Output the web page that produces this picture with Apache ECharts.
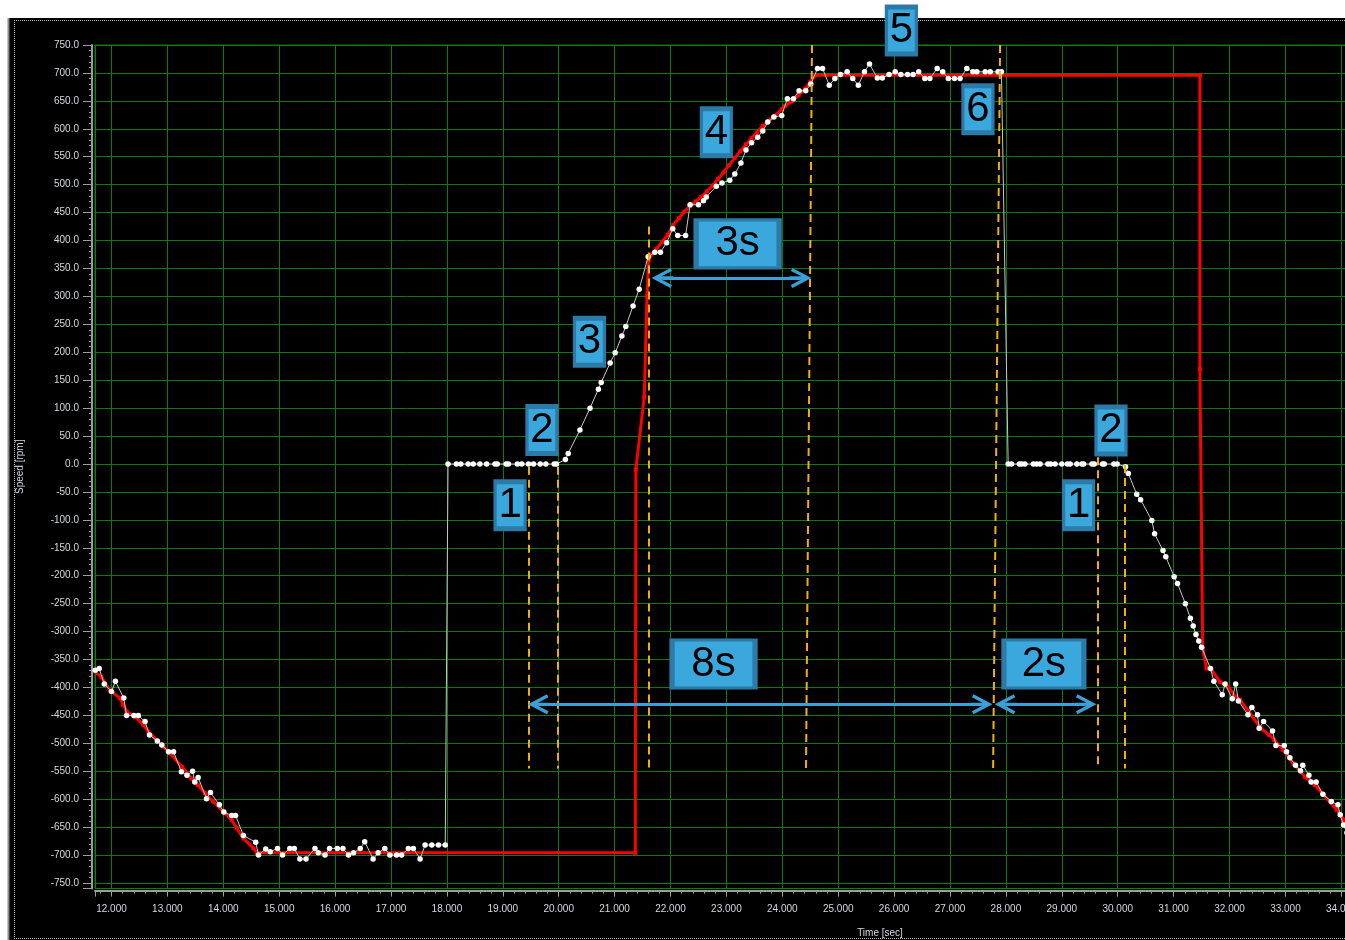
<!DOCTYPE html>
<html>
<head>
<meta charset="utf-8">
<title>Speed profile</title>
<script src="https://cdn.jsdelivr.net/npm/echarts@6/dist/echarts.min.js"></script>
<style>
  html, body { margin: 0; padding: 0; background: #fff; overflow: hidden; }
  #chart { width: 1345px; height: 940px; }
</style>
</head>
<body>
<div id="chart"></div>
<script>
// Measured motor speed (white trace)
const measuredTime = [
  11.71, 11.78, 11.87, 12.00, 12.07, 12.22, 12.27, 12.40, 12.48, 12.60,
  12.68, 12.82, 12.90, 13.02, 13.11, 13.25, 13.35, 13.45, 13.49, 13.55,
  13.70, 13.77, 13.93, 14.01, 14.15, 14.22, 14.36, 14.58, 14.63, 14.76,
  14.84, 14.97, 15.06, 15.19, 15.27, 15.37, 15.48, 15.64, 15.70, 15.82,
  15.90, 16.04, 16.14, 16.24, 16.33, 16.45, 16.53, 16.68, 16.77, 16.89,
  16.98, 17.10, 17.19, 17.31, 17.40, 17.52, 17.61, 17.73, 17.85, 17.97,
  18.02, 18.17, 18.25, 18.38, 18.47, 18.59, 18.71, 18.86, 18.90, 19.06,
  19.10, 19.26, 19.34, 19.46, 19.55, 19.67, 19.77, 19.92, 19.96,
  20.12, 20.17, 20.38, 20.56, 20.71, 20.76, 20.92, 21.01, 21.13, 21.20,
  21.33, 21.44, 21.60, 21.72, 21.82, 21.93, 22.04, 22.13, 22.27, 22.35,
  22.50, 22.59, 22.64, 22.82, 22.92, 23.06, 23.15, 23.26, 23.35, 23.45,
  23.56, 23.65, 23.74, 23.85, 23.99, 24.09, 24.20, 24.30, 24.42, 24.51,
  24.63, 24.72, 24.84, 24.94, 25.04, 25.16, 25.26, 25.36, 25.47, 25.56,
  25.70, 25.79, 25.91, 26.02, 26.12, 26.24, 26.34, 26.44, 26.55, 26.64,
  26.77, 26.87, 26.97, 27.08, 27.18, 27.30, 27.41, 27.48, 27.63, 27.72,
  27.86, 27.92,
  28.04, 28.10, 28.24, 28.28, 28.34, 28.49, 28.55, 28.61, 28.75, 28.80,
  28.88, 29.00, 29.10, 29.15, 29.27, 29.36, 29.39, 29.54, 29.58, 29.73,
  29.76, 29.93, 29.99,
  30.14, 30.19, 30.34, 30.41, 30.61, 30.66, 30.81, 30.86, 31.01, 31.07,
  31.21, 31.30, 31.35, 31.40, 31.45, 31.50, 31.66, 31.72, 31.87, 31.92,
  32.05, 32.11, 32.16, 32.33, 32.40, 32.50, 32.53, 32.61, 32.77, 32.83,
  32.98, 33.02, 33.08, 33.18, 33.27, 33.31, 33.42, 33.46, 33.55, 33.67,
  33.82, 33.94, 33.98, 34.04, 34.10
];
const measuredRpm = [
  -369, -366, -394, -407, -389, -419, -450, -450, -450, -461,
  -485, -496, -503, -515, -515, -551, -557, -550, -569, -561,
  -599, -588, -610, -623, -629, -629, -665, -677, -700, -689,
  -694, -688, -700, -688, -688, -707, -707, -688, -696, -700,
  -688, -688, -688, -700, -696, -688, -676, -707, -696, -688,
  -700, -700, -700, -688, -688, -707, -682, -682, -682, -682,
  0, 0, 0, 0, 0, 0, 0, 0, 0, 0,
  0, 0, 0, 0, 0, 0, 0, 0, 0,
  8, 19, 61, 100, 134, 146, 181, 199, 229, 246,
  283, 313, 371, 379, 379, 396, 421, 409, 409, 464,
  464, 471, 478, 497, 503, 508, 519, 539, 562, 575,
  585, 596, 612, 621, 624, 654, 654, 668, 668, 680,
  708, 708, 678, 690, 697, 702, 690, 678, 702, 716,
  691, 691, 697, 702, 697, 697, 697, 702, 690, 690,
  708, 702, 690, 690, 690, 708, 702, 702, 702, 702,
  702, 702,
  0, 0, 0, 0, 0, 0, 0, 0, 0, 0,
  0, 0, 0, 0, 0, 0, 0, 0, 0, 0,
  0, 0, 0,
  -5, -17, -54, -64, -101, -125, -155, -166, -202, -214,
  -250, -276, -290, -305, -317, -328, -366, -389, -413, -394,
  -420, -394, -424, -449, -436, -449, -473, -461, -478, -504,
  -504, -515, -526, -539, -549, -539, -557, -569, -569, -591,
  -604, -610, -628, -646, -660
];

// Speed command (red trace)
const commandTime = [
  11.70, 11.82, 11.97, 12.15, 12.21, 12.27, 12.42, 12.57, 12.66, 12.93,
  13.05, 13.26, 13.43, 13.55, 13.67, 13.82, 14.00, 14.15, 14.24, 14.36,
  14.54, 14.60, 21.37, 21.38, 21.53, 21.58, 21.61, 21.66, 21.75, 21.85,
  21.95, 22.05, 22.15, 22.25, 22.35, 22.45, 22.55, 22.65, 22.75, 22.85,
  22.95, 23.05, 23.15, 23.25, 23.35, 23.45, 23.55, 23.65, 23.75, 23.85,
  23.99, 24.05, 24.17, 24.29, 24.41, 24.50, 24.59, 31.47, 31.47, 31.52,
  31.59, 31.67, 31.83, 31.98, 32.10, 32.19, 32.34, 32.56, 32.71, 32.80,
  32.96, 33.14, 33.35, 33.53, 33.68, 33.92, 34.04, 34.10
];
const commandRpm = [
  -372, -381, -405, -419, -431, -443, -452, -467, -479, -506,
  -518, -542, -563, -575, -589, -604, -622, -637, -652, -670,
  -688, -696, -696, -10, 120, 300, 365, 375, 385, 398,
  410, 428, 440, 452, 462, 470, 478, 488, 498, 510,
  522, 535, 548, 560, 572, 583, 594, 605, 614, 622,
  635, 641, 649, 660, 672, 684, 696, 696, 170, -330,
  -366, -367, -390, -399, -416, -422, -443, -473, -485, -494,
  -512, -536, -560, -575, -592, -619, -637, -648
];

// Vertical guide lines (start and end point of each)
const guideStartTime = [19.456, 19.979, 21.607, 24.531, 27.896, 29.642, 30.122];
const guideStartRpm  = [-5, -5, 425, 750, 750, 12, -2];
const guideEndTime   = [19.456, 19.979, 21.607, 24.424, 27.771, 29.642, 30.122];
const guideEndRpm    = [-545, -545, -545, -545, -545, -545, -545];

// Duration arrows (tip to tip) and their captions
const spanLabels    = ['3s', '8s', '2s'];
const spanStartTime = [21.66, 19.45, 27.80];
const spanEndTime   = [24.52, 27.76, 29.62];
const spanRpm       = [333, -430, -430];
const spanLabelTime = [23.20, 22.77, 28.68];
const spanLabelRpm  = [394, -358, -358];

// Numbered phase markers
const stepLabels = ['1', '2', '3', '4', '5', '6', '2', '1'];
const stepTime   = [19.13, 19.70, 20.55, 22.82, 26.13, 27.50, 29.88, 29.30];
const stepRpm    = [-74, 61, 219, 594, 776, 635, 60, -74];

const zip = (xs, ys) => xs.map((x, i) => [x, ys[i]]);

const chart = echarts.init(document.getElementById('chart'), null, { renderer: 'canvas' });

const FONT = 'Liberation Sans, Arial, sans-serif';
const LABEL_COLOR = '#d3d9e0';
const GRID_GREEN = '#0b7d0b';
const AXIS_GRAY = '#9c9c9c';
const BOX_FILL = '#3aa8dc';
const BOX_EDGE = '#2b7aa8';
const ARROW_BLUE = '#3aa0d8';
const GUIDE_YELLOW = '#f2b000';

// Open chevron with a short stem, tip at the top
const CHEVRON = 'path://M10,0 L20,19 L17,20.5 L11.6,10 L11.6,22 L8.4,22 L8.4,10 L3,20.5 L0,19 Z';
const HEAD_INSET = 0.197; // half chevron length along the time axis

const guideLines = guideStartTime.map((t, i) => [
  { coord: [t, guideStartRpm[i]] },
  { coord: [guideEndTime[i], guideEndRpm[i]] }
]);

const spanLines = spanStartTime.map((t, i) => [
  { coord: [t + HEAD_INSET, spanRpm[i]] },
  { coord: [spanEndTime[i] - HEAD_INSET, spanRpm[i]] }
]);

const boxData = stepLabels.map((s, i) => ({ value: [stepTime[i], stepRpm[i]], name: s }))
  .concat(spanLabels.map((s, i) => ({ value: [spanLabelTime[i], spanLabelRpm[i]], name: s })));

chart.setOption({
  backgroundColor: '#000',
  animation: false,
  grid: {
    left: 95, top: 45, width: 1257.5, height: 843.6,
    outerBoundsMode: 'none', containLabel: false,
    show: true, borderColor: GRID_GREEN, borderWidth: 1, backgroundColor: '#000'
  },
  xAxis: {
    type: 'value', min: 11.705, max: 34.2, minInterval: 1, maxInterval: 1,
    offset: 2,
    axisLine: { show: true, onZero: false, lineStyle: { color: AXIS_GRAY, width: 2 } },
    axisTick: { show: true, length: 6, lineStyle: { color: AXIS_GRAY, width: 1 } },
    minorTick: { show: true, splitNumber: 5, length: 3, lineStyle: { color: AXIS_GRAY, width: 1 } },
    axisLabel: {
      show: true, margin: 14, color: LABEL_COLOR, fontFamily: FONT, fontSize: 10,
      showMinLabel: false, showMaxLabel: false,
      formatter: v => v.toFixed(3)
    },
    splitLine: { show: true, lineStyle: { color: GRID_GREEN, width: 1 } },
    minorSplitLine: { show: false }
  },
  yAxis: {
    type: 'value', min: -760, max: 750, minInterval: 50, maxInterval: 50,
    offset: 3,
    name: 'Speed [rpm]', nameLocation: 'middle', nameGap: 67,
    nameTextStyle: { color: LABEL_COLOR, fontFamily: FONT, fontSize: 10 },
    axisLine: { show: true, onZero: false, lineStyle: { color: AXIS_GRAY, width: 2 } },
    axisTick: { show: true, length: 9, lineStyle: { color: AXIS_GRAY, width: 1 } },
    minorTick: { show: true, splitNumber: 5, length: 3, lineStyle: { color: AXIS_GRAY, width: 1 } },
    axisLabel: {
      show: true, margin: 13, color: LABEL_COLOR, fontFamily: FONT, fontSize: 10,
      showMinLabel: false,
      formatter: v => v.toFixed(1)
    },
    splitLine: { show: true, lineStyle: { color: GRID_GREEN, width: 1 } },
    minorSplitLine: { show: false }
  },
  graphic: {
    elements: [
      { type: 'rect', shape: { x: 0, y: 0, width: 1345, height: 18 }, style: { fill: '#fff' }, silent: true },
      { type: 'rect', shape: { x: 0, y: 0, width: 8, height: 940 }, style: { fill: '#fff' }, silent: true },
      { type: 'line', shape: { x1: 8.5, y1: 18, x2: 8.5, y2: 940 }, style: { stroke: '#8a8a8a', lineWidth: 2 }, silent: true },
      { type: 'line', shape: { x1: 14, y1: 20.5, x2: 1345, y2: 20.5 }, style: { stroke: '#bdbdbd', lineWidth: 1, lineDash: [1, 1] }, silent: true },
      { type: 'line', shape: { x1: 14.5, y1: 20, x2: 14.5, y2: 938 }, style: { stroke: '#bdbdbd', lineWidth: 1, lineDash: [1, 1] }, silent: true },
      { type: 'line', shape: { x1: 14, y1: 938.5, x2: 1345, y2: 938.5 }, style: { stroke: '#bdbdbd', lineWidth: 1, lineDash: [1, 1] }, silent: true },
      { type: 'text', x: 880, y: 933, style: { text: 'Time [sec]', fill: LABEL_COLOR, font: '10px ' + FONT, textAlign: 'center', textVerticalAlign: 'middle' }, silent: true }
    ]
  },
  series: [
    {
      name: 'Command',
      type: 'line',
      z: 2,
      data: zip(commandTime, commandRpm),
      symbol: 'rect', symbolSize: 4, showSymbol: true,
      itemStyle: { color: '#ff0000' },
      lineStyle: { color: '#ff0000', width: 3 }
    },
    {
      name: 'Speed',
      type: 'line',
      z: 3,
      data: zip(measuredTime, measuredRpm),
      symbol: 'circle', symbolSize: 5.5, showSymbol: true,
      itemStyle: { color: '#ffffff' },
      lineStyle: { color: '#c8c8c8', width: 1 }
    },
    {
      name: 'Guides',
      type: 'line',
      z: 4,
      data: [],
      markLine: {
        silent: true, animation: false, symbol: 'none',
        label: { show: false },
        lineStyle: { color: GUIDE_YELLOW, width: 2, type: [8, 5] },
        data: guideLines
      }
    },
    {
      name: 'Spans',
      type: 'line',
      z: 5,
      data: [],
      markLine: {
        silent: true, animation: false,
        symbol: [CHEVRON, CHEVRON], symbolSize: [20, 22],
        label: { show: false },
        lineStyle: { color: ARROW_BLUE, width: 3, type: 'solid' },
        itemStyle: { color: ARROW_BLUE },
        data: spanLines
      }
    },
    {
      name: 'Markers',
      type: 'scatter',
      z: 6,
      clip: false,
      data: boxData,
      symbol: 'rect',
      symbolSize: (val, p) => (p.name.length > 1 ? (p.name === '2s' ? [80, 48] : [83, 48]) : [30, 47]),
      itemStyle: { color: BOX_FILL, borderColor: BOX_EDGE, borderWidth: 4, opacity: 1 },
      label: {
        show: true, position: 'inside', formatter: p => p.name,
        color: '#000', fontFamily: FONT, fontSize: 42
      }
    }
  ]
});
</script>
</body>
</html>
